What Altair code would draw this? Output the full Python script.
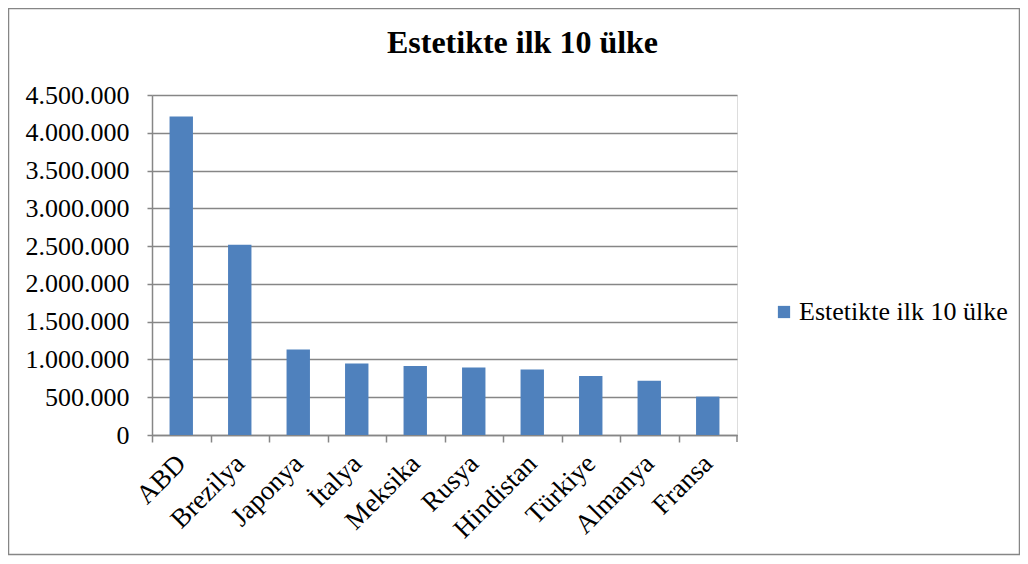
import altair as alt
import pandas as pd

countries = ["ABD", "Brezilya", "Japonya", "İtalya", "Meksika", "Rusya",
             "Hindistan", "Türkiye", "Almanya", "Fransa"]
values = [4215000, 2518000, 1131000, 946000, 914000, 893000, 866000, 782000, 717000, 508000]
series_name = "Estetikte ilk 10 ülke"
y_ticks = [0, 500000, 1000000, 1500000, 2000000, 2500000, 3000000, 3500000, 4000000, 4500000]

df = pd.DataFrame({"country": countries, "value": values, "series": [series_name] * len(countries)})

FONT = "Liberation Serif"
GRAY = "#868686"
BLUE = "#4F81BD"
W, H = 585, 340
STEP = W / len(countries)

bars = alt.Chart(df).mark_bar(color=BLUE).encode(
    x=alt.X("country:N", sort=countries,
            scale=alt.Scale(paddingInner=0.6, paddingOuter=0.3),
            axis=alt.Axis(title=None, labelAngle=-45, labelAlign="right", labelBaseline="middle",
                          labelFont=FONT, labelFontSize=27, labelColor="black",
                          tickOffset=-STEP / 2, labelOffset=STEP / 2,
                          tickSize=7, tickColor=GRAY, tickWidth=1.5,
                          domainColor=GRAY, domainWidth=1.5, labelPadding=17, grid=False)),
    y=alt.Y("value:Q", scale=alt.Scale(domain=[0, 4500000], nice=False),
            axis=alt.Axis(title=None, values=y_ticks,
                          labelExpr="replace(format(datum.value, ','), regexp(',', 'g'), '.')",
                          labelFont=FONT, labelFontSize=26, labelColor="black",
                          tickSize=5, tickColor=GRAY, tickWidth=1.5,
                          domainColor=GRAY, domainWidth=1.5, labelPadding=18,
                          grid=True, gridColor=GRAY, gridWidth=1.5)),
    color=alt.Color("series:N", scale=alt.Scale(range=[BLUE]),
                    legend=alt.Legend(title=None, orient="none", legendX=619, legendY=204,
                                      symbolType="square", symbolSize=150, symbolStrokeWidth=0,
                                      labelFont=FONT, labelFontSize=26, labelColor="black",
                                      labelOffset=2, labelLimit=400)),
)

end_tick = alt.Chart(alt.Data(values=[{}])).mark_rule(color=GRAY, strokeWidth=1.5).encode(
    x=alt.value(W), y=alt.value(H), y2=alt.value(H + 7)
)

border = alt.Chart(alt.Data(values=[{}])).mark_rect(fill=None, stroke=GRAY, strokeWidth=1.5).encode(
    x=alt.value(-143.5), x2=alt.value(867.5), y=alt.value(-86.5), y2=alt.value(459.5)
)

chart = alt.layer(border, bars, end_tick).properties(
    width=W, height=H,
    title=alt.TitleParams(series_name, font=FONT, fontSize=32, fontWeight="bold",
                          color="black", anchor="middle", dx=78, offset=-52),
    autosize=alt.AutoSizeParams(type="none"),
    padding={"left": 144, "top": 87, "right": 283, "bottom": 121},
).configure_view(stroke=None).configure(background="white")

chart.save("out.html", embed_options={"renderer": "svg", "actions": False})
